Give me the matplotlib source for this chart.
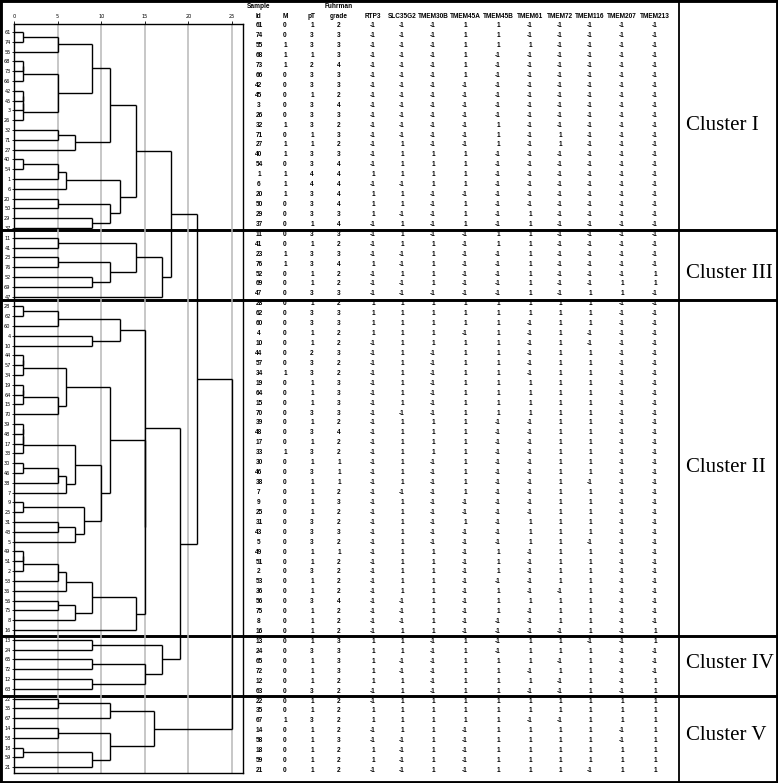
import numpy as np
import matplotlib.pyplot as plt

# table rows, in dendrogram order
sample_id = [61, 74, 55, 68, 73, 66, 42, 45, 3, 26,
             32, 71, 27, 40, 54, 1, 6, 20, 50, 29,
             37, 11, 41, 23, 76, 52, 69, 47, 28, 62,
             60, 4, 10, 44, 57, 34, 19, 64, 15, 70,
             39, 48, 17, 33, 30, 46, 38, 7, 9, 25,
             31, 43, 5, 49, 51, 2, 53, 36, 56, 75,
             8, 16, 13, 24, 65, 72, 12, 63, 22, 35,
             67, 14, 58, 18, 59, 21]

m_stage = [0, 0, 1, 1, 1, 0, 0, 0, 0, 0,
           1, 0, 1, 1, 0, 1, 1, 1, 0, 0,
           0, 0, 0, 1, 1, 0, 0, 0, 0, 0,
           0, 0, 0, 0, 0, 1, 0, 0, 0, 0,
           0, 0, 0, 1, 0, 0, 0, 0, 0, 0,
           0, 0, 0, 0, 0, 0, 0, 0, 0, 0,
           0, 0, 0, 0, 0, 0, 0, 0, 0, 0,
           1, 0, 0, 0, 0, 0]

pt_stage = [1, 3, 3, 1, 2, 3, 3, 1, 3, 3,
            3, 1, 1, 3, 3, 4, 4, 3, 3, 3,
            1, 3, 1, 3, 3, 1, 1, 3, 1, 3,
            3, 1, 1, 2, 3, 3, 1, 1, 1, 3,
            1, 3, 1, 3, 1, 3, 1, 1, 1, 1,
            3, 3, 3, 1, 1, 3, 1, 1, 3, 1,
            1, 1, 1, 3, 1, 1, 1, 3, 1, 1,
            3, 1, 1, 1, 1, 1]

fuhrman = [2, 3, 3, 3, 4, 3, 3, 2, 4, 3,
           2, 3, 2, 3, 4, 4, 4, 4, 4, 3,
           4, 3, 2, 3, 4, 2, 2, 3, 2, 3,
           3, 2, 2, 3, 2, 2, 3, 3, 3, 3,
           2, 4, 2, 2, 1, 1, 1, 2, 3, 2,
           2, 3, 2, 1, 2, 2, 2, 2, 4, 2,
           2, 2, 3, 3, 3, 3, 2, 2, 2, 2,
           2, 2, 3, 2, 2, 2]

rtp3 = [-1, -1, -1, -1, -1, -1, -1, -1, -1, -1,
        -1, -1, -1, -1, -1, 1, -1, 1, 1, 1,
        -1, -1, -1, -1, 1, -1, -1, -1, 1, 1,
        1, 1, -1, -1, -1, -1, -1, -1, -1, -1,
        -1, -1, -1, -1, -1, -1, -1, -1, -1, -1,
        -1, -1, -1, -1, -1, -1, -1, -1, -1, -1,
        -1, -1, 1, 1, 1, 1, 1, -1, -1, 1,
        1, -1, -1, 1, 1, -1]

slc35g2 = [-1, -1, -1, -1, -1, -1, -1, -1, -1, -1,
           -1, -1, 1, 1, 1, 1, -1, 1, 1, -1,
           1, 1, 1, -1, -1, 1, -1, -1, 1, 1,
           1, 1, 1, 1, 1, 1, 1, 1, 1, -1,
           1, 1, 1, 1, 1, 1, 1, -1, 1, 1,
           1, 1, 1, 1, 1, 1, 1, 1, -1, -1,
           -1, 1, 1, 1, -1, -1, 1, 1, 1, 1,
           1, 1, -1, -1, -1, -1]

tmem30b = [-1, -1, -1, -1, -1, -1, -1, -1, -1, -1,
           -1, -1, -1, 1, 1, 1, 1, -1, -1, -1,
           -1, -1, 1, 1, 1, 1, 1, -1, 1, 1,
           1, 1, 1, -1, -1, -1, -1, -1, -1, -1,
           1, 1, 1, 1, -1, -1, -1, -1, -1, -1,
           -1, -1, -1, 1, 1, 1, 1, 1, 1, 1,
           1, 1, -1, -1, -1, -1, -1, -1, 1, 1,
           1, 1, 1, 1, 1, 1]

tmem45a = [1, 1, 1, 1, 1, 1, -1, -1, -1, -1,
           -1, -1, -1, 1, 1, 1, 1, -1, 1, 1,
           1, -1, -1, -1, -1, -1, -1, -1, 1, 1,
           1, -1, 1, 1, 1, 1, 1, 1, 1, 1,
           1, 1, 1, 1, 1, 1, 1, 1, -1, -1,
           1, -1, -1, -1, -1, -1, -1, -1, -1, -1,
           -1, -1, 1, 1, 1, 1, 1, 1, 1, 1,
           1, -1, -1, -1, -1, -1]

tmem45b = [1, 1, 1, -1, -1, -1, -1, -1, -1, -1,
           1, 1, 1, -1, -1, -1, -1, -1, -1, -1,
           -1, 1, 1, -1, -1, -1, -1, -1, 1, 1,
           1, 1, 1, 1, 1, 1, 1, 1, 1, 1,
           -1, -1, -1, -1, -1, -1, -1, -1, -1, -1,
           -1, -1, -1, 1, 1, 1, -1, 1, 1, 1,
           -1, -1, -1, -1, 1, 1, 1, 1, 1, 1,
           1, 1, 1, 1, 1, 1]

tmem61 = [-1, -1, 1, -1, -1, -1, -1, -1, -1, -1,
          -1, -1, -1, -1, -1, -1, -1, -1, -1, 1,
          1, 1, 1, 1, 1, 1, 1, 1, 1, 1,
          -1, -1, -1, -1, -1, -1, 1, 1, 1, 1,
          -1, -1, -1, -1, -1, -1, -1, -1, -1, -1,
          1, 1, 1, -1, -1, -1, -1, -1, 1, -1,
          -1, -1, 1, 1, 1, -1, 1, -1, 1, 1,
          -1, 1, 1, 1, 1, 1]

tmem72 = [-1, -1, -1, -1, -1, -1, -1, -1, -1, -1,
          -1, 1, 1, -1, -1, -1, -1, -1, -1, -1,
          -1, -1, -1, -1, -1, -1, -1, -1, 1, 1,
          1, 1, 1, 1, 1, 1, 1, 1, 1, 1,
          1, 1, 1, 1, 1, 1, 1, 1, 1, 1,
          1, 1, 1, 1, 1, 1, 1, -1, 1, 1,
          1, -1, 1, 1, -1, 1, -1, -1, 1, 1,
          -1, 1, 1, 1, 1, 1]

tmem116 = [-1, -1, -1, -1, -1, -1, -1, -1, -1, -1,
           -1, -1, -1, -1, -1, -1, -1, -1, -1, -1,
           -1, -1, -1, -1, -1, -1, -1, 1, 1, 1,
           1, -1, -1, 1, 1, 1, 1, 1, 1, 1,
           1, 1, 1, 1, 1, 1, -1, 1, 1, 1,
           1, 1, -1, 1, 1, 1, 1, 1, 1, 1,
           1, 1, -1, 1, 1, 1, 1, 1, 1, 1,
           1, 1, 1, 1, 1, -1]

tmem207 = [-1, -1, -1, -1, -1, -1, -1, -1, -1, -1,
           -1, -1, -1, -1, -1, -1, -1, -1, -1, -1,
           -1, -1, -1, -1, -1, -1, 1, 1, -1, -1,
           -1, -1, -1, -1, -1, -1, -1, -1, -1, -1,
           -1, -1, -1, -1, -1, -1, -1, -1, -1, -1,
           -1, -1, -1, -1, -1, -1, -1, -1, -1, -1,
           -1, -1, -1, -1, -1, -1, -1, -1, 1, 1,
           1, -1, -1, 1, 1, 1]

tmem213 = [-1, -1, -1, -1, -1, -1, -1, -1, -1, -1,
           -1, -1, -1, -1, -1, -1, -1, -1, -1, -1,
           -1, -1, -1, -1, -1, 1, 1, -1, -1, -1,
           -1, -1, -1, -1, -1, -1, -1, -1, -1, -1,
           -1, -1, -1, -1, -1, -1, -1, -1, -1, -1,
           -1, -1, -1, -1, -1, -1, -1, -1, -1, -1,
           -1, 1, 1, -1, -1, -1, 1, 1, 1, 1,
           1, 1, 1, 1, 1, 1]

gene_names = ["RTP3", "SLC35G2", "TMEM30B", "TMEM45A", "TMEM45B",
              "TMEM61", "TMEM72", "TMEM116", "TMEM207", "TMEM213"]
gene_values = [rtp3, slc35g2, tmem30b, tmem45a, tmem45b,
               tmem61, tmem72, tmem116, tmem207, tmem213]

cluster_names = ["Cluster I", "Cluster III", "Cluster II", "Cluster IV", "Cluster V"]
cluster_sizes = [21, 7, 34, 6, 8]

# dendrogram merges: (rescaled distance, left, right), leaves are sample ids
tree_I = (14, (11, (9, (5, (1, 61, 74), 55),
                    (5, (1, (1, 68, 73), 66), (1, (1, (1, 42, 45), 3), 26))),
               (7, (5, 32, 71), 27)),
          (12.1, (6, (5, (1, 40, 54), 1), 6),
           (11, (5, 20, 50), (9, 29, 37))))
tree_III = (17, (14, (5, 11, 41), (11, (5, 23, 76), (9, 52, 69))), 47)
tree_II = (15.05, (12.1, (5, (1, 28, 62), 60), (9, 4, 10)),
           (15, (11, (6, (1, (1, 44, 57), 34), (5, (1, (1, 19, 64), 15), 70)),
                 (10, (7, (1, (1, (1, 39, 48), 17), 33), (6, (5, (1, 30, 46), 38), 7)),
                  (8, (1, 9, 25), (7, (5, 31, 43), 5)))),
            (14, (9, (6, (5, (1, (1, 49, 51), 2), 53), 36), (7, (5, 56, 75), 8)), 16)))
tree_IV = (17, (9, 13, 24), (15, (9, 65, 72), (9, 12, 63)))
tree_V = (16, (11, (5, 22, 35), 67), (11, (5, 14, 58), (9, (1, 18, 59), 21)))
tree_all = (25, (21, (18, tree_I, tree_III), (19, tree_II, tree_IV)), tree_V)

W, H = 778, 783
fig = plt.figure(figsize=(W / 100, H / 100), dpi=100)

# frame in pixel units: table, separators, cluster names
frame = fig.add_axes([0, 0, 1, 1])
frame.set_xlim(0, W)
frame.set_ylim(H, 0)
frame.set_xticks([])
frame.set_yticks([])
for s in frame.spines.values():
    s.set_linewidth(3.5)

row0, step = 25.8, 9.93


def row_y(i):
    return row0 + step * i


col_x = [259, 285, 312, 339, 373, 402, 433, 465, 498, 530, 560, 590, 622, 655]
head_top = ["Sample", "", "", "Fuhrman"] + [""] * len(gene_names)
head_bot = ["Id", "M", "pT", "grade"] + gene_names
columns = [sample_id, m_stage, pt_stage, fuhrman] + gene_values

tfont = dict(family="Liberation Sans", fontweight="bold", fontsize=4.7,
             ha="center", va="center", zorder=4)
for x, t1, t2, vals in zip(col_x, head_top, head_bot, columns):
    if t1:
        frame.text(x, 6.5, t1, **tfont)
    frame.text(x, 16.5, t2, **tfont)
    for i, v in enumerate(vals):
        frame.text(x, row_y(i), str(v), **tfont)

frame.axvline(679, color="black", lw=1.3)

# thick cluster separators and cluster names
sep_y = [230, 300, 636, 696]
label_y = [126, 273, 468, 664, 736]
for y in sep_y:
    frame.axhline(y, color="black", lw=2.1, zorder=2)
for name, y in zip(cluster_names, label_y):
    frame.text(686, y, name, family="Liberation Serif",
               fontsize=15, ha="left", va="center")

# dendrogram panel
ax = fig.add_axes([14 / W, 1 - 773 / H, 229 / W, 749 / H])
ax.set_xlim(0, 26.26)
ax.set_ylim(75.6, -0.82)
ax.patch.set_alpha(0)
for s in ax.spines.values():
    s.set_linewidth(1.0)
for g in [5, 10, 15, 20, 25]:
    ax.axvline(g, color="#b8b8b8", lw=1.1, zorder=0)

leaf_pos = {s: i for i, s in enumerate(sample_id)}


def draw(node):
    if not isinstance(node, tuple):
        return leaf_pos[node], 0.0
    h, a, b = node
    ya, ha = draw(a)
    yb, hb = draw(b)
    kw = dict(color="black", lw=1.0, solid_capstyle="butt")
    ax.plot([ha, h], [ya, ya], **kw)
    ax.plot([hb, h], [yb, yb], **kw)
    ax.plot([h, h], [ya, yb], **kw)
    return (ya + yb) / 2, h


draw(tree_all)

ax.xaxis.tick_top()
ax.set_xticks([0, 5, 10, 15, 20, 25])
ax.tick_params(axis="x", length=2.5, width=0.6, pad=1, labelsize=3.6)
ax.set_yticks(range(len(sample_id)))
ax.set_yticklabels([str(s) for s in sample_id])
ax.tick_params(axis="y", length=1.5, width=0.6, pad=1, labelsize=3.6)

fig.savefig("out.png", dpi=100)
